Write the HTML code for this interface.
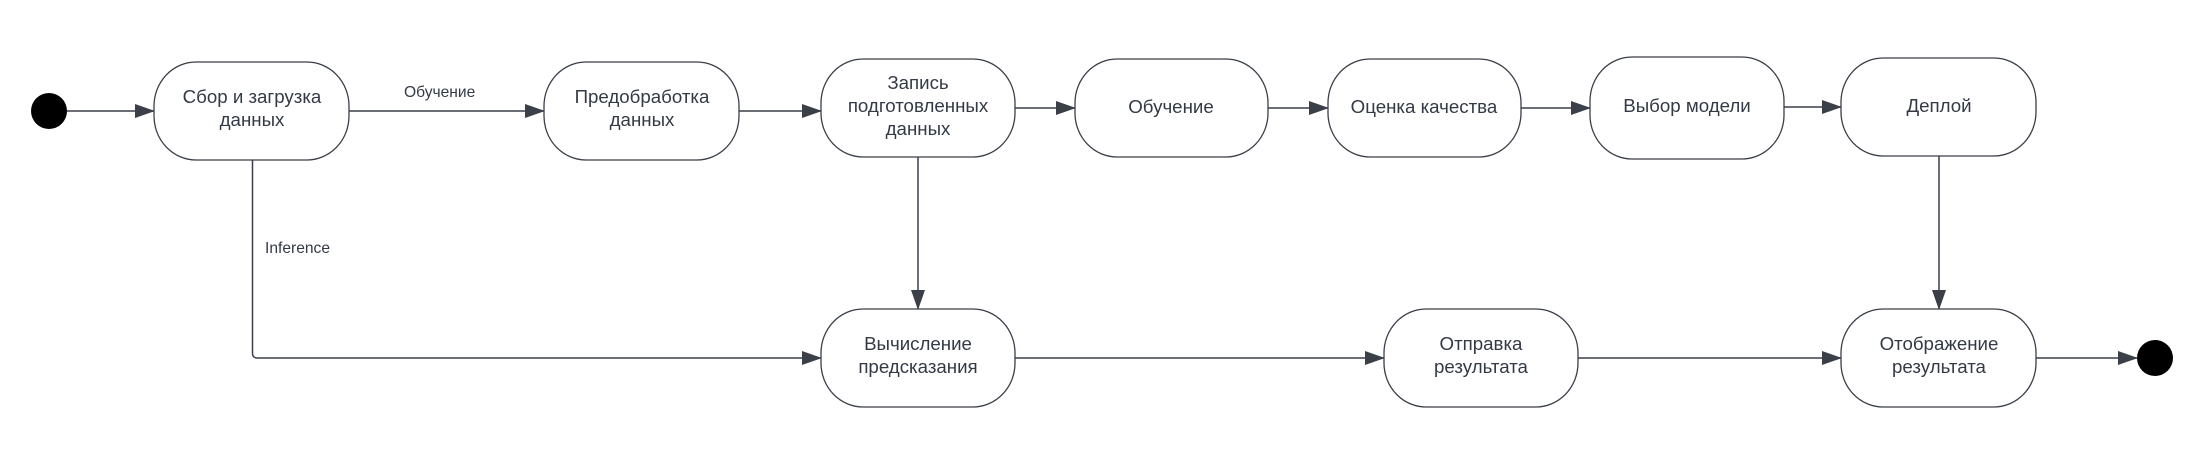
<!DOCTYPE html>
<html><head><meta charset="utf-8"><style>
html,body{margin:0;padding:0;background:#fff;}
svg{display:block;}
text{font-family:"Liberation Sans","DejaVu Sans",sans-serif;fill:#333a45;}
.t{font-size:18.7px;text-anchor:middle;}
.l{font-size:15.6px;}
.b{fill:#fff;stroke:#3a3f48;stroke-width:1.3;}
.c{stroke:#3a3f48;stroke-width:1.5;fill:none;}
</style></head><body>
<svg width="2205" height="450" viewBox="0 0 2205 450" xmlns="http://www.w3.org/2000/svg">
<defs><marker id="a" markerWidth="20" markerHeight="14" refX="19" refY="7" orient="auto" markerUnits="userSpaceOnUse"><path d="M0,0 L20,7 L0,14 Z" fill="#3a3f48"/></marker></defs>
<circle cx="49" cy="111" r="18" fill="#000"/>
<circle cx="2155" cy="358" r="18" fill="#000"/>
<line class="c" x1="67" y1="111" x2="154" y2="111" marker-end="url(#a)"/>
<line class="c" x1="349" y1="111" x2="544" y2="111" marker-end="url(#a)"/>
<line class="c" x1="739" y1="111" x2="821" y2="111" marker-end="url(#a)"/>
<line class="c" x1="1015" y1="108" x2="1075" y2="108" marker-end="url(#a)"/>
<line class="c" x1="1268" y1="108" x2="1328" y2="108" marker-end="url(#a)"/>
<line class="c" x1="1521" y1="108" x2="1590" y2="108" marker-end="url(#a)"/>
<line class="c" x1="1784" y1="107" x2="1841" y2="107" marker-end="url(#a)"/>
<line class="c" x1="918" y1="157" x2="918" y2="309" marker-end="url(#a)"/>
<line class="c" x1="1939" y1="156" x2="1939" y2="309" marker-end="url(#a)"/>
<path class="c" d="M252.5,160 V353 Q252.5,358 257.5,358 H821" marker-end="url(#a)"/>
<line class="c" x1="1015" y1="358" x2="1384" y2="358" marker-end="url(#a)"/>
<line class="c" x1="1578" y1="358" x2="1841" y2="358" marker-end="url(#a)"/>
<line class="c" x1="2036" y1="358" x2="2137" y2="358" marker-end="url(#a)"/>
<text class="l" x="404" y="97">Обучение</text>
<text class="l" x="265" y="253">Inference</text>
<rect class="b" x="154" y="62" width="195" height="98" rx="42" ry="44"/>
<rect class="b" x="544" y="62" width="195" height="98" rx="42" ry="44"/>
<rect class="b" x="821" y="59" width="194" height="98" rx="42" ry="44"/>
<rect class="b" x="1075" y="59" width="193" height="98" rx="42" ry="44"/>
<rect class="b" x="1328" y="59" width="193" height="98" rx="42" ry="44"/>
<rect class="b" x="1590" y="57" width="194" height="102" rx="42" ry="44"/>
<rect class="b" x="1841" y="58" width="195" height="98" rx="42" ry="44"/>
<rect class="b" x="821" y="309" width="194" height="98" rx="42" ry="44"/>
<rect class="b" x="1384" y="309" width="194" height="98" rx="42" ry="44"/>
<rect class="b" x="1841" y="309" width="195" height="98" rx="42" ry="44"/>
<text class="t" x="252" y="103">Сбор и загрузка</text>
<text class="t" x="252" y="126">данных</text>
<text class="t" x="642" y="103">Предобработка</text>
<text class="t" x="642" y="126">данных</text>
<text class="t" x="918" y="89">Запись</text>
<text class="t" x="918" y="112">подготовленных</text>
<text class="t" x="918" y="135">данных</text>
<text class="t" x="1171" y="113">Обучение</text>
<text class="t" x="1424" y="113">Оценка качества</text>
<text class="t" x="1687" y="112">Выбор модели</text>
<text class="t" x="1939" y="112">Деплой</text>
<text class="t" x="918" y="350">Вычисление</text>
<text class="t" x="918" y="373">предсказания</text>
<text class="t" x="1481" y="350">Отправка</text>
<text class="t" x="1481" y="373">результата</text>
<text class="t" x="1939" y="350">Отображение</text>
<text class="t" x="1939" y="373">результата</text>
</svg>
</body></html>
